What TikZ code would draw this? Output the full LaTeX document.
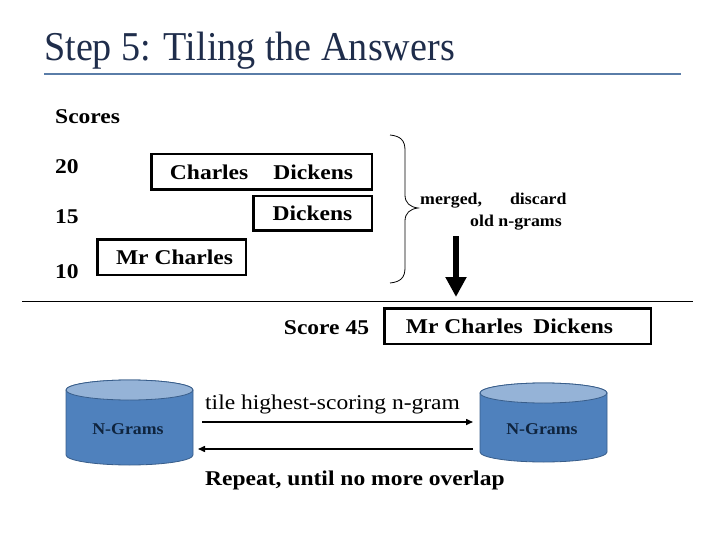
\documentclass[tikz,border=0pt]{standalone}
\usepackage{fontspec}
\setmainfont{Liberation Serif}
\newfontfamily\tnr[FakeStretch=1.12]{Liberation Serif}
\newfontfamily\tnrs[FakeStretch=1.08]{Liberation Serif}
\newfontfamily\titlefont[FakeStretch=0.93]{Liberation Serif}
\usetikzlibrary{arrows.meta}
\definecolor{titlecol}{HTML}{1F2D4B}
\definecolor{rulecol}{HTML}{5A7DA8}
\definecolor{cylbody}{HTML}{4F81BD}
\definecolor{cyltop}{HTML}{95B3D7}
\definecolor{cylline}{HTML}{385D8A}
\definecolor{ngramtxt}{HTML}{0F243E}
\begin{document}
\begin{tikzpicture}[x=1pt,y=-1pt,
  txt/.style={inner sep=0pt, font=\tnr\fontsize{21}{25}\selectfont},
  btxt/.style={inner sep=0pt, font=\tnr\bfseries\fontsize{21}{25}\selectfont},
  stxt/.style={inner sep=0pt, font=\tnrs\bfseries\fontsize{16.5}{19}\selectfont},
  tbox/.style={draw, line width=2.5pt, inner sep=0pt, font=\tnr\bfseries\fontsize{21}{25}\selectfont},
  cyl/.style={draw=cylline, line width=0.8pt},
  thin arrow/.style={line width=1.5pt, -{Triangle[length=7pt,width=6pt]}},
]
\useasboundingbox (0,0) rectangle (720,540);

% title
\node[anchor=base west, inner sep=0pt, text=titlecol, font=\titlefont\fontsize{41}{46}\selectfont] (title) at (44,61) {Step 5: Tiling the Answers};
\draw[rulecol, line width=2.5pt] (44,74) -- (681,74);

% scores
\node[btxt, anchor=base west] (scores) at (55,124) {Scores};
\node[btxt, anchor=base west] (s20) at (55,174) {20};
\node[btxt, anchor=base west] (s15) at (55,224) {15};
\node[btxt, anchor=base west] (s10) at (55,278) {10};

\node[tbox, minimum width=220.5pt, minimum height=35.5pt] (cd) at (261.5,172) {Charles\hspace{25pt}Dickens};
\node[tbox, minimum width=118.5pt, minimum height=34.5pt] (d) at (312.5,213.5) {Dickens};
\node[tbox, minimum width=148.5pt, minimum height=35.5pt] (mc) at (171.5,257) {\hspace*{6pt}Mr Charles};

% brace
\draw[line width=0.8pt] (390,135) .. controls (400,136) and (405,140) .. (405,150) -- (405,195)
  .. controls (405,203) and (410,207) .. (418,208)
  .. controls (410,209) and (405,213) .. (405,221) -- (405,268)
  .. controls (405,278) and (400,282) .. (390,283);

\node[stxt, anchor=base west] (m1) at (420,205) {merged,\hspace{28pt}discard};
\node[stxt, anchor=base west] (m2) at (470,226) {old n-grams};

% thick arrow
\coordinate (th1) at (456,236);
\coordinate (th2) at (456,297);
\draw[line width=6pt, -{Triangle[length=20pt,width=20pt]}] (th1) -- (th2);

% separator
\coordinate (sepl) at (22,301);
\coordinate (sepr) at (693,301);
\draw[line width=1pt] (sepl) -- (sepr);

\node[btxt] (sc45) at (326.5,328) {Score 45};
\node[tbox, minimum width=266.5pt, minimum height=35.5pt] (res) at (517.5,326) {Mr Charles\hspace{0.5em}Dickens\hspace*{16pt}};

% cylinders
\draw[cyl, fill=cylbody] (66,390) -- (66,455) arc[start angle=180, end angle=0, x radius=63.5, y radius=10] -- (193,390) arc[start angle=360, end angle=180, x radius=63.5, y radius=10] -- cycle;
\draw[cyl, fill=cyltop] (129.5,390) ellipse [x radius=63.5, y radius=10];
\node[stxt, text=ngramtxt] (ngl) at (128,429) {N-Grams};

\draw[cyl, fill=cylbody] (480,393) -- (480,452) arc[start angle=180, end angle=0, x radius=63.5, y radius=10] -- (607,393) arc[start angle=360, end angle=180, x radius=63.5, y radius=10] -- cycle;
\draw[cyl, fill=cyltop] (543.5,393) ellipse [x radius=63.5, y radius=10];
\node[stxt, text=ngramtxt] (ngr) at (542,429) {N-Grams};

% arrows
\node[txt, anchor=base west] (tile) at (205,409) {tile highest-scoring n-gram};
\coordinate (a1s) at (202,422);
\coordinate (a1e) at (473,422);
\coordinate (a2s) at (473,449);
\coordinate (a2e) at (198,449);
\draw[thin arrow] (a1s) -- (a1e);
\draw[thin arrow] (a2s) -- (a2e);
\node[btxt, anchor=base west] (rep) at (205,485) {Repeat, until no more overlap};
\end{tikzpicture}
\end{document}
